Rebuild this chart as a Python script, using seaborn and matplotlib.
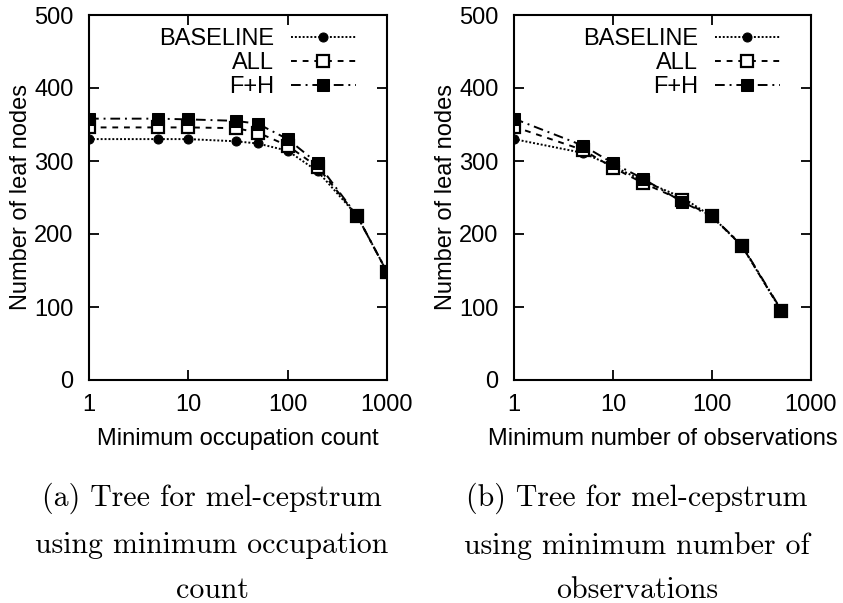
import numpy as np
import pandas as pd
import matplotlib
matplotlib.use("Agg")
import matplotlib.pyplot as plt
import seaborn as sns
from matplotlib.ticker import FixedLocator, FixedFormatter, NullLocator

# ---- data ----
occ_x = [1, 5, 10, 30, 50, 100, 200, 500, 1000]
occ_baseline = [330, 330, 330, 327, 324, 314, 286, 225, 148]
occ_all = [346, 346, 346, 345, 339, 321, 292, 225, 148]
occ_fh = [358, 358, 357, 355, 351, 330, 297, 225, 148]

obs_x = [1, 5, 10, 20, 50, 100, 200, 500]
obs_baseline = [330, 311, 293, 273, 250, 224, 184, 95]
obs_all = [347, 315, 291, 270, 246, 224, 184, 95]
obs_fh = [358, 321, 297, 276, 244, 224, 185, 96]

series_names = ["BASELINE", "ALL", "F+H"]
xlabels = ["Minimum occupation count", "Minimum number of observations"]
ylabel = "Number of leaf nodes"
captions = ["(a) Tree for mel-cepstrum\nusing minimum occupation\ncount",
            "(b) Tree for mel-cepstrum\nusing minimum number of\nobservations"]
xticks = [1, 10, 100, 1000]
xticklabels = ["1", "10", "100", "1000"]
yticks = [0, 100, 200, 300, 400, 500]

sns.set_theme(style="ticks")
plt.rcParams["font.family"] = ["Liberation Sans", "DejaVu Sans"]
plt.rcParams["text.color"] = "black"
plt.rcParams["axes.labelcolor"] = "black"
plt.rcParams["xtick.color"] = "black"
plt.rcParams["ytick.color"] = "black"

styles = {
    "BASELINE": dict(linestyle=(0, (1, 1)), marker="o", markersize=6.5,
                     markerfacecolor="black", markeredgecolor="black"),
    "ALL": dict(linestyle=(0, (3, 3)), marker="s", markersize=8,
                markerfacecolor="white", markeredgecolor="black", markeredgewidth=1.6),
    "F+H": dict(linestyle=(0, (5, 2.5, 1, 2.5)), marker="s", markersize=8.5,
                markerfacecolor="black", markeredgecolor="black"),
}

fig = plt.figure(figsize=(8.43, 6.03), dpi=100)
W, H = 843, 603
axes_px = [(89, 387), (514, 811)]
top_px, bot_px = 15, 380

panels = [
    (occ_x, [occ_baseline, occ_all, occ_fh]),
    (obs_x, [obs_baseline, obs_all, obs_fh]),
]

FS = 17
for i, ((x0, x1), (xs, ys)) in enumerate(zip(axes_px, panels)):
    ax = fig.add_axes([x0 / W, 1 - bot_px / H, (x1 - x0) / W, (bot_px - top_px) / H])
    ax.set_xscale("log")
    for name, yv in zip(series_names, ys):
        df = pd.DataFrame({"x": xs, "y": yv})
        sns.lineplot(data=df, x="x", y="y", ax=ax, color="black", linewidth=1.4,
                     estimator=None, sort=False, label=name, **styles[name])
    ax.set_xlim(1, 1000)
    ax.set_ylim(0, 500)
    ax.xaxis.set_major_locator(FixedLocator(xticks))
    ax.xaxis.set_major_formatter(FixedFormatter(xticklabels))
    ax.xaxis.set_minor_locator(NullLocator())
    ax.set_yticks(yticks)
    ax.tick_params(axis="both", which="major", direction="in", length=7, width=1.3,
                   top=True, right=True, labelsize=FS, colors="black")
    ax.tick_params(axis="x", pad=10)
    ax.tick_params(axis="y", pad=11)
    for s in ax.spines.values():
        s.set_linewidth(1.5)
        s.set_color("black")
    ax.set_xlabel(xlabels[i], fontsize=FS, labelpad=9, color="black")
    ax.set_ylabel(ylabel, fontsize=FS, labelpad=2, color="black")
    leg = ax.legend(loc="upper right", bbox_to_anchor=(0.895, 0.965), frameon=False,
                    markerfirst=False, fontsize=FS, handlelength=2.75, handletextpad=0.7,
                    labelspacing=0.1, borderpad=0, borderaxespad=0, numpoints=1)
    for t in leg.get_texts():
        t.set_color("black")
    ax.set_facecolor("white")

for cx, cap in zip([212, 637], captions):
    fig.text(cx / W, 1 - 483 / H, cap, ha="center", va="top", fontsize=21.5,
             family=["cmr10", "DejaVu Serif"], linespacing=1.8, color="black")

fig.savefig("out.png", dpi=100, facecolor="white")
